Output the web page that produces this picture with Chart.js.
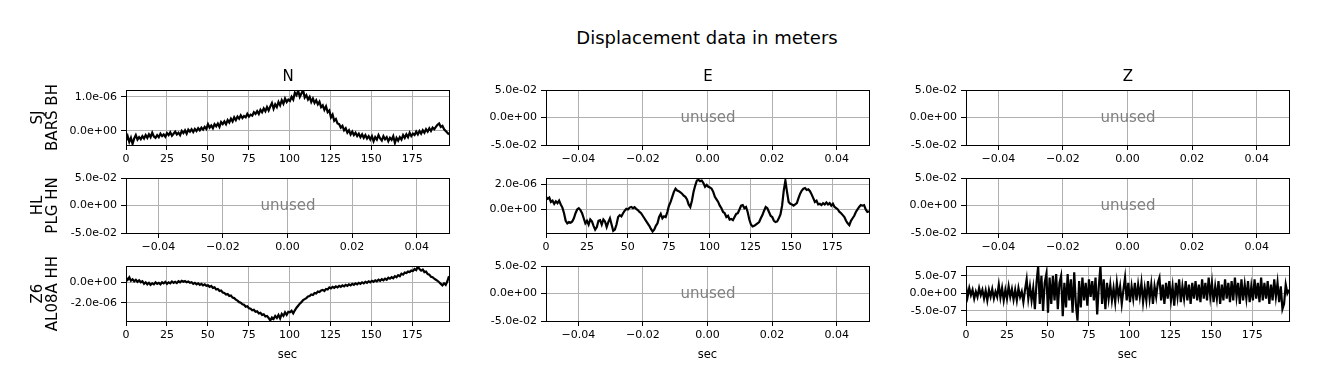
<!DOCTYPE html>
<html>
<head>
<meta charset="utf-8">
<script src="https://cdn.jsdelivr.net/npm/chart.js@4.4.1/dist/chart.umd.min.js"></script>
<style>
  html, body { margin:0; padding:0; background:#fff; }
  body { width:1318px; height:389px; position:relative; overflow:hidden; font-family:'DejaVu Sans', sans-serif; }
  canvas { position:absolute; }
  #sup { position:absolute; left:407px; width:600px; top:28px; text-align:center; font-size:18px; line-height:20px; color:#000; }
</style>
</head>
<body>
<div id="sup"></div>
<script>
// ---------------- DATA (values in units of 1e-6 m) ----------------
const SUPTITLE = 'Displacement data in meters';
const COL_TITLES = ['N', 'E', 'Z'];
const ROW_LABELS = [['SJ', 'BARS BH'], ['HL', 'PLG HN'], ['Z6', 'AL08A HH']];
const X_LABEL = 'sec';
const UNUSED_TEXT = 'unused';
const DURATION = 197.5; // seconds spanned by each trace

const seriesSJ_N = [
 -0.28,-0.15,-0.32,-0.2,-0.38,-0.22,-0.12,-0.25,-0.18,-0.24,
 -0.15,-0.22,-0.12,-0.2,-0.1,-0.18,-0.05,-0.16,-0.2,-0.12,
 -0.18,-0.08,-0.15,-0.1,-0.17,-0.06,-0.12,-0.04,-0.14,-0.08,
 -0.02,-0.1,-0.05,-0.12,0.0,-0.06,0.02,-0.08,0.04,-0.02,
 0.05,-0.03,0.06,0.0,0.08,0.02,0.1,0.04,0.12,0.06,
 0.2,0.1,0.16,0.08,0.2,0.14,0.22,0.12,0.26,0.2,
 0.28,0.2,0.32,0.25,0.36,0.28,0.4,0.32,0.42,0.36,
 0.46,0.38,0.44,0.4,0.5,0.42,0.48,0.45,0.55,0.5,
 0.58,0.5,0.62,0.55,0.66,0.58,0.7,0.6,0.72,0.82,
 0.65,0.78,0.7,0.85,0.75,0.9,0.8,0.95,0.85,0.92,
 0.88,1.0,0.92,1.12,1.05,1.18,1.0,1.1,1.2,0.98,
 1.05,0.92,1.0,0.85,0.95,0.82,0.9,0.78,0.86,0.7,
 0.75,0.62,0.72,0.55,0.6,0.4,0.48,0.3,0.35,0.22,
 0.2,0.1,0.15,0.02,0.08,-0.05,0.02,-0.1,-0.02,-0.12,
 -0.05,-0.15,-0.08,-0.18,-0.1,-0.2,-0.12,-0.22,-0.15,-0.25,
 -0.15,-0.3,-0.18,-0.25,-0.12,-0.22,-0.28,-0.15,-0.24,-0.18,
 -0.3,-0.2,-0.26,-0.15,-0.35,-0.2,-0.28,-0.18,-0.25,-0.12,
 -0.2,-0.1,-0.18,-0.05,-0.15,-0.08,-0.12,-0.02,-0.1,0.0,
 -0.08,0.02,-0.05,0.05,-0.02,0.08,0.0,0.1,0.05,0.12,
 0.18,0.22,0.12,0.15,0.05,0.0,-0.05,-0.1
];

const seriesHL_E = [
 1.0,0.85,0.95,0.6,0.7,0.45,0.65,0.5,0.7,0.4,
 0.15,-0.3,-0.9,-1.1,-1.0,-1.05,-0.95,-0.7,-0.3,0.0,
 0.1,-0.05,-0.3,-0.7,-1.1,-0.9,-1.2,-0.8,-0.95,-1.3,
 -1.6,-1.4,-0.9,-0.85,-1.2,-0.8,-0.95,-1.4,-1.0,-0.7,
 -1.2,-1.7,-1.6,-1.2,-0.6,-0.45,-0.55,-0.3,-0.1,0.05,
 0.0,0.15,0.2,0.1,0.18,0.05,-0.05,-0.2,-0.3,-0.5,
 -0.7,-0.9,-1.1,-1.3,-1.55,-1.75,-1.6,-1.3,-1.1,-0.6,
 -0.35,-0.7,-0.55,-0.6,-0.2,0.3,0.6,1.0,1.4,1.65,
 1.5,1.45,1.35,1.25,1.1,1.0,0.8,0.4,0.2,0.7,
 1.4,1.9,2.3,2.35,2.25,2.3,2.1,1.8,1.95,1.8,
 1.75,1.65,1.4,1.0,0.8,0.6,0.3,0.1,-0.2,-0.3,
 -0.6,-0.5,-0.8,-0.75,-0.85,-0.6,-0.35,-0.3,0.0,0.3,
 0.35,0.1,0.2,-0.2,-0.8,-1.2,-1.35,-1.3,-1.2,-1.1,
 -1.0,-0.7,-0.45,-0.1,0.2,0.1,-0.2,-0.5,-0.6,-0.9,
 -1.0,-0.95,-0.7,-0.4,0.3,1.5,2.3,1.4,0.6,0.45,
 0.4,0.3,0.4,0.5,0.9,1.25,1.5,1.65,1.7,1.55,
 1.6,1.45,1.2,0.9,0.6,0.7,0.4,0.45,0.35,0.5,
 0.4,0.55,0.4,0.5,0.3,0.45,0.2,0.1,0.0,-0.2,
 -0.3,-0.45,-0.6,-0.9,-1.1,-1.25,-0.9,-0.7,-0.5,-0.2,
 0.0,0.2,0.35,0.3,0.35,0.0,-0.2,-0.15
];

const seriesZ6_N = [
 0.45,0.25,0.5,0.15,0.3,0.1,0.25,0.05,0.2,0.0,
 0.1,-0.15,0.0,-0.2,-0.05,-0.25,-0.1,-0.2,0.0,-0.15,
 -0.05,-0.2,0.0,-0.1,0.05,-0.15,0.0,-0.1,0.08,-0.05,
 0.05,-0.08,0.1,0.0,0.15,0.05,0.12,0.0,0.08,-0.05,
 0.0,-0.15,-0.05,-0.2,-0.1,-0.25,-0.15,-0.3,-0.2,-0.35,
 -0.3,-0.45,-0.35,-0.55,-0.5,-0.7,-0.65,-0.85,-0.8,-1.0,
 -1.05,-1.2,-1.15,-1.35,-1.3,-1.5,-1.55,-1.7,-1.8,-1.95,
 -2.0,-2.15,-2.2,-2.4,-2.35,-2.55,-2.6,-2.75,-2.7,-2.9,
 -2.85,-3.05,-3.0,-3.2,-3.15,-3.35,-3.3,-3.5,-3.75,-3.45,
 -3.6,-3.3,-3.5,-3.2,-3.55,-3.1,-3.3,-2.95,-3.2,-2.9,
 -2.95,-2.8,-3.05,-2.75,-2.5,-2.3,-2.1,-1.95,-1.75,-1.65,
 -1.55,-1.4,-1.35,-1.2,-1.25,-1.05,-1.1,-0.9,-0.95,-0.8,
 -0.75,-0.85,-0.65,-0.7,-0.5,-0.6,-0.45,-0.55,-0.4,-0.5,
 -0.35,-0.45,-0.3,-0.4,-0.25,-0.35,-0.2,-0.3,-0.15,-0.25,
 -0.1,-0.2,-0.05,-0.15,0.0,-0.1,0.05,-0.05,0.1,0.0,
 0.15,0.05,0.2,0.1,0.25,0.15,0.3,0.2,0.35,0.25,
 0.45,0.35,0.5,0.4,0.6,0.5,0.7,0.6,0.85,0.75,
 0.95,0.9,1.05,1.0,1.15,1.1,1.3,1.2,1.55,1.3,
 1.15,1.25,1.0,1.05,0.8,0.75,0.55,0.5,0.35,0.25,
 0.15,0.0,-0.15,-0.3,-0.1,-0.25,0.1,0.6
];

const seriesZ6_Z = [
 0.2,-0.1,0.15,-0.05,0.1,-0.15,0.05,-0.1,0.15,-0.05,
 0.1,-0.15,0.08,-0.2,0.1,-0.1,0.12,-0.15,0.05,-0.1,
 0.25,-0.12,0.15,-0.2,0.1,-0.15,0.2,-0.1,0.12,-0.18,
 0.1,-0.2,0.15,-0.1,0.05,-0.25,0.1,0.4,-0.15,0.2,
 -0.2,0.15,-0.45,0.3,0.77,-0.3,0.5,-0.5,0.3,0.55,
 -0.55,0.45,-0.3,0.5,-0.2,0.55,-0.45,0.3,0.5,-0.65,
 0.3,-0.4,0.55,-0.2,0.4,-0.55,0.6,-0.3,-0.78,0.35,
 -0.4,0.45,-0.2,0.3,-0.35,0.4,-0.1,0.35,-0.2,0.45,
 -0.6,0.2,0.77,-0.3,0.4,-0.45,0.3,-0.15,0.25,-0.2,
 0.15,-0.25,0.3,-0.1,0.2,-0.3,0.1,0.45,-0.2,0.3,
 -0.25,0.2,-0.15,0.3,-0.2,0.25,-0.1,0.3,-0.25,0.15,
 -0.2,0.35,-0.15,0.25,-0.3,0.2,-0.1,0.3,0.45,-0.2,
 0.25,-0.3,0.3,-0.15,0.35,-0.2,0.2,-0.35,0.3,-0.1,
 0.4,-0.25,0.2,-0.15,0.35,-0.2,0.25,-0.3,0.3,-0.15,
 0.35,-0.2,0.25,-0.25,0.4,-0.15,0.3,-0.2,0.45,-0.1,
 0.3,-0.25,0.2,-0.15,0.35,-0.3,0.25,-0.2,0.4,-0.15,
 0.3,-0.25,0.35,-0.2,0.45,-0.1,0.3,-0.3,0.4,-0.2,
 0.25,-0.15,0.35,-0.25,0.2,-0.2,0.4,-0.15,0.3,-0.25,
 0.45,-0.2,0.3,-0.15,0.35,-0.3,0.25,-0.2,0.4,-0.1,
 0.3,-0.25,0.2,-0.45,-0.3,0.25,0.0,0.1
];

// tick values and labels
const timeTicks = [0, 25, 50, 75, 100, 125, 150, 175];
const timeTickLabels = ['0', '25', '50', '75', '100', '125', '150', '175'];
const unusedXTicks = [-0.04, -0.02, 0, 0.02, 0.04];
const unusedXTickLabels = ['\u22120.04', '\u22120.02', '0.00', '0.02', '0.04'];
const unusedYTicks = [-0.05, 0, 0.05];
const unusedYTickLabels = ['-5.0e-02', '0.0e+00', '5.0e-02'];
const yTicksSJ = [0, 1];
const yTickLabelsSJ = ['0.0e+00', '1.0e-06'];
const yTicksHL = [0, 2];
const yTickLabelsHL = ['0.0e+00', '2.0e-06'];
const yTicksZ6N = [-2, 0];
const yTickLabelsZ6N = ['-2.0e-06', '0.0e+00'];
const yTicksZ6Z = [-0.5, 0, 0.5];
const yTickLabelsZ6Z = ['-5.0e-07', '0.0e+00', '5.0e-07'];

// y-axis limits (units 1e-6)
const yLimSJ = [-0.41, 1.2];
const yLimHL = [-1.87, 2.5];
const yLimZ6N = [-3.8, 1.6];
const yLimZ6Z = [-0.79, 0.78];

// ---------------- LAYOUT ----------------
const FONT = "'DejaVu Sans', sans-serif";
const PLOT_LEFT = [126, 546, 966];
const PLOT_TOP = [90, 178, 266];
const PLOT_W = 323, PLOT_H = 55;
const YW = 110, TOPH = 26, RIGHTM = 12, XH = 44;

document.getElementById('sup').textContent = SUPTITLE;

const panels = [
  [{s: seriesSJ_N, yt: yTicksSJ, yl: yTickLabelsSJ, lim: yLimSJ}, null, null],
  [null, {s: seriesHL_E, yt: yTicksHL, yl: yTickLabelsHL, lim: yLimHL}, null],
  [{s: seriesZ6_N, yt: yTicksZ6N, yl: yTickLabelsZ6N, lim: yLimZ6N}, null,
   {s: seriesZ6_Z, yt: yTicksZ6Z, yl: yTickLabelsZ6Z, lim: yLimZ6Z}]
];

const boxPlugin = {
  id: 'box',
  afterDraw(chart, args, opts) {
    const {ctx, chartArea: a} = chart;
    ctx.save();
    ctx.strokeStyle = '#000';
    ctx.lineWidth = 1;
    ctx.strokeRect(a.left + 0.5, a.top + 0.5, a.right - a.left, a.bottom - a.top);
    if (opts.unused) {
      ctx.fillStyle = '#808080';
      ctx.font = '15px ' + FONT;
      ctx.textAlign = 'center';
      ctx.textBaseline = 'middle';
      ctx.fillText(UNUSED_TEXT, (a.left + a.right) / 2 + 0.5, (a.top + a.bottom) / 2 + 0.5);
    }
    if (opts.colTitle) {
      ctx.fillStyle = '#000';
      ctx.font = '15px ' + FONT;
      ctx.textAlign = 'center';
      ctx.textBaseline = 'middle';
      ctx.fillText(opts.colTitle, (a.left + a.right) / 2 + 0.5, a.top - 12.5);
    }
    ctx.restore();
  }
};

function makePanel(r, c) {
  const p = panels[r][c];
  const cv = document.createElement('canvas');
  const w = YW + PLOT_W + RIGHTM, h = TOPH + PLOT_H + XH;
  cv.width = w; cv.height = h;
  cv.style.left = (PLOT_LEFT[c] - YW) + 'px';
  cv.style.top = (PLOT_TOP[r] - TOPH) + 'px';
  cv.style.width = w + 'px'; cv.style.height = h + 'px';
  document.body.appendChild(cv);

  const unused = !p;
  const xt = unused ? unusedXTicks : timeTicks;
  const xl = unused ? unusedXTickLabels : timeTickLabels;
  const yt = unused ? unusedYTicks : p.yt;
  const yl = unused ? unusedYTickLabels : p.yl;
  const xmin = unused ? -0.05 : 0, xmax = unused ? 0.05 : DURATION;
  const ymin = unused ? -0.05 : p.lim[0], ymax = unused ? 0.05 : p.lim[1];

  const datasets = unused ? [] : [{
    data: p.s.map((v, i) => ({x: i * DURATION / (p.s.length - 1), y: v})),
    borderColor: '#000', borderWidth: 2.2, pointRadius: 0, tension: 0,
    fill: false, clip: 0
  }];

  const tickFont = {family: FONT, size: 11};
  new Chart(cv, {
    type: 'line',
    data: {datasets},
    plugins: [boxPlugin],
    options: {
      responsive: false, animation: false, devicePixelRatio: 1,
      layout: {padding: {top: TOPH, right: RIGHTM, left: 0, bottom: 0}},
      plugins: {
        legend: {display: false}, tooltip: {enabled: false}, title: {display: false},
        box: {unused, colTitle: r === 0 ? COL_TITLES[c] : null}
      },
      scales: {
        x: {
          type: 'linear', min: xmin, max: xmax,
          afterBuildTicks: s => { s.ticks = xt.map(v => ({value: v})); },
          afterFit: s => { s.height = XH; },
          ticks: {autoSkip: false, maxRotation: 0, minRotation: 0, padding: 3, color: '#000', font: tickFont,
                  callback: (v, i) => xl[i]},
          grid: {color: '#b0b0b0', lineWidth: 1, tickColor: '#000', tickLength: 5, tickWidth: 1, drawOnChartArea: true},
          border: {display: false},
          title: {display: r === 2, text: X_LABEL, color: '#000', font: {family: FONT, size: 11.5}, padding: {top: 0, bottom: 3}}
        },
        y: {
          type: 'linear', min: ymin, max: ymax,
          afterBuildTicks: s => { s.ticks = yt.map(v => ({value: v})); },
          afterFit: s => { s.width = YW; },
          ticks: {autoSkip: false, padding: 4, color: '#000', font: tickFont,
                  callback: (v, i) => yl[i]},
          grid: {color: '#b0b0b0', lineWidth: 1, tickColor: '#000', tickLength: 5, tickWidth: 1},
          border: {display: false},
          title: {display: c === 0, text: ROW_LABELS[r], color: '#000',
                  font: {family: FONT, size: 15, lineHeight: 1.03}, padding: {top: 14, bottom: 0}}
        }
      }
    }
  });
}

for (let r = 0; r < 3; r++) for (let c = 0; c < 3; c++) makePanel(r, c);
</script>
</body>
</html>
